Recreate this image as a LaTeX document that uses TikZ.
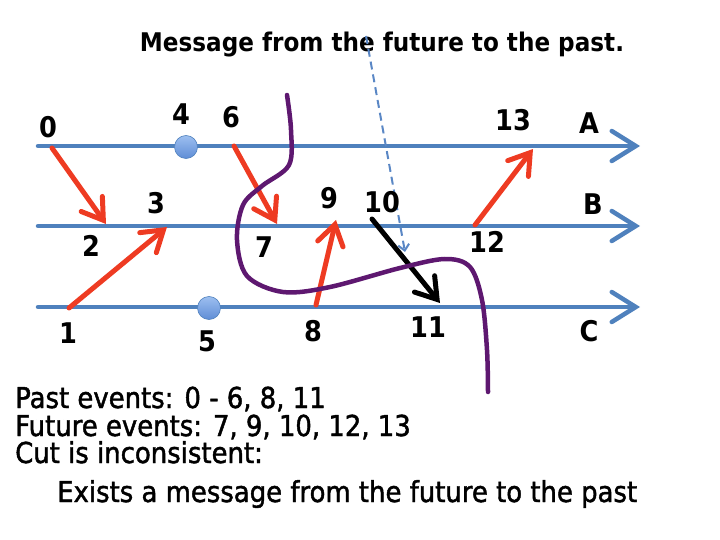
\documentclass[tikz,border=0pt]{standalone}
\usepackage{fontspec}
\setmainfont[FakeStretch=0.9]{DejaVu Sans}
\newfontfamily\medfont[FakeStretch=0.9, FakeBold=1.5]{DejaVu Sans}
\usetikzlibrary{arrows.meta}
\definecolor{lineblue}{HTML}{4F81BD}
\definecolor{dashblue}{HTML}{5A87C5}
\definecolor{dottop}{HTML}{9DBFF0}
\definecolor{dotbot}{HTML}{5F8DD6}
\definecolor{msgred}{HTML}{EE3B22}
\definecolor{cutpurple}{HTML}{5E1870}
\tikzset{
  timeline/.style={draw=lineblue, line width=4.5pt, line cap=round,
    -{Straight Barb[length=24pt, width=30pt, line cap=round]}},
  msg/.style={draw=msgred, line width=5pt, line cap=round,
    -{Straight Barb[length=20pt, width=26pt, line cap=round]}},
  badmsg/.style={draw=black, line width=5pt, line cap=round,
    -{Straight Barb[length=20pt, width=26pt, line cap=round]}},
  note/.style={draw=dashblue, line width=2pt, dash pattern=on 8pt off 5pt,
    -{Straight Barb[length=6pt, width=11pt]}},
  evdot/.style={circle, minimum size=23pt, inner sep=0pt, draw=lineblue, line width=0.6pt,
    top color=dottop, bottom color=dotbot},
  num/.style={font=\fontsize{28.5}{32}\selectfont\bfseries, inner sep=0pt},
  body/.style={font=\fontsize{28.8}{32}\selectfont\medfont, anchor=base west, inner sep=0pt},
}
\begin{document}
\begin{tikzpicture}[x=1pt, y=-1pt]
\useasboundingbox (0,0) rectangle (720,540);
% timelines
\coordinate (As) at (38,146); \coordinate (Ae) at (640,146);
\coordinate (Bs) at (38,226); \coordinate (Be) at (640,226);
\coordinate (Cs) at (38,307); \coordinate (Ce) at (640,307);
\draw[timeline] (As) -- (Ae);
\draw[timeline] (Bs) -- (Be);
\draw[timeline] (Cs) -- (Ce);
% events
\coordinate (e0) at (52,148);
\coordinate (e2) at (106,224);
\coordinate (e1) at (69,308);
\coordinate (e3) at (167,227);
\coordinate (e6) at (234,146);
\coordinate (e7) at (277,224);
\coordinate (e8) at (316,305);
\coordinate (e9) at (336,220);
\coordinate (e12) at (475,225);
\coordinate (e13) at (533,149);
\coordinate (e10) at (372,219);
\coordinate (e11) at (440,303);
\node[evdot] (d4) at (186,147) {};
\node[evdot] (d5) at (209,308) {};
% messages
\draw[msg] (e0) -- (e2);
\draw[msg] (e1) -- (e3);
\draw[msg] (e6) -- (e7);
\draw[msg] (e8) -- (e9);
\draw[msg] (e12) -- (e13);
\draw[badmsg] (e10) -- (e11);
% cut
\draw[cutpurple, line width=4.5pt, line cap=round] plot[smooth, tension=0.55] coordinates {
  (287,95) (291,130) (289,165) (262,186) (243,205) (237,240) (247,276) (283,292)
  (330,287) (400,268) (445,259) (470,267) (482,300) (487,350) (488,392)};
% title and dashed pointer
\node[font=\fontsize{25.7}{30}\selectfont\bfseries, inner sep=0pt, anchor=base] (title) at (382,52) {Message from the future to the past.};
\coordinate (ps) at (366,36);
\coordinate (pe) at (405,252);
\draw[note] (ps) -- (pe);
% labels
\node[num] (l0) at (48,127) {0};
\node[num] (l4) at (181,114) {4};
\node[num] (l6) at (231,117) {6};
\node[num] (l13) at (513,120) {13};
\node[num] (lA) at (589,123) {A};
\node[num] (l3) at (156,203) {3};
\node[num] (l9) at (329,198) {9};
\node[num] (l10) at (382,202) {10};
\node[num] (lB) at (593,204) {B};
\node[num] (l2) at (91,246) {2};
\node[num] (l7) at (264,247) {7};
\node[num] (l12) at (487,242) {12};
\node[num] (l1) at (68,333) {1};
\node[num] (l5) at (207,341) {5};
\node[num] (l8) at (313,331) {8};
\node[num] (l11) at (428,327) {11};
\node[num] (lC) at (589,331) {C};
% bottom text
\node[body] (t1) at (15,408) {Past events: 0 - 6, 8, 11};
\node[body] (t2) at (15,436) {Future events: 7, 9, 10, 12, 13};
\node[body] (t3) at (15,463) {Cut is inconsistent:};
\node[body] (t4) at (57,502) {Exists a message from the future to the past};
\end{tikzpicture}
\end{document}
